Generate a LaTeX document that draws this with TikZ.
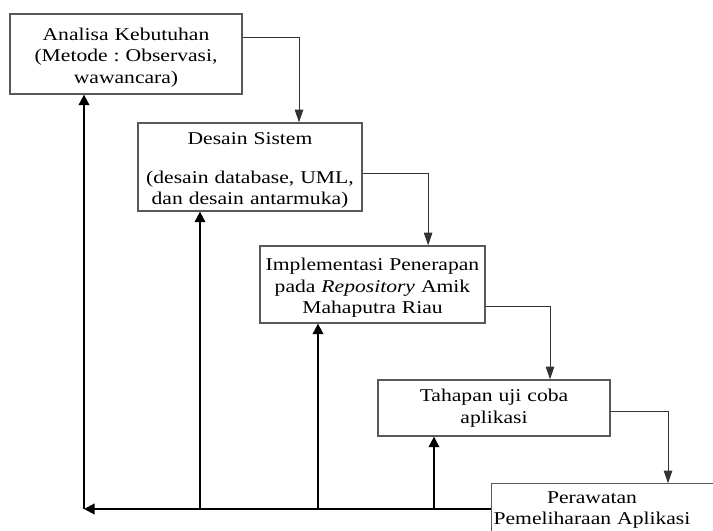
\documentclass[tikz,border=0pt]{standalone}
\usepackage{fontspec}
\setmainfont[FakeStretch=1.2]{Liberation Serif}
\usetikzlibrary{arrows.meta}
\frenchspacing

\begin{document}
\begin{tikzpicture}[x=0.025cm, y=-0.025cm,
    box/.style={draw=black!65, line width=0.9pt, inner sep=0pt, align=center,
      font=\fontsize{12.8}{15.2}\selectfont},
    flow/.style={draw=black!80, line width=0.7pt, -{Triangle[length=9pt,width=6pt]}},
    back/.style={draw=black, line width=1.4pt, -{Triangle[length=7.5pt,width=7.5pt]}}]
  \useasboundingbox (0,0) rectangle (713,531);
  \node[box, minimum width=5.8cm, minimum height=2cm, text width=5.6cm] (analisa) at (126,54)
    {\rule{0pt}{13.7pt}Analisa Kebutuhan\\(Metode : Observasi,\\wawancara)};
  \node[box, minimum width=5.6cm, minimum height=2.2cm, text width=5.4cm] (desain) at (250,167)
    {\rule{0pt}{13.7pt}Desain Sistem\\[12.4pt](desain database, UML,\\dan desain antarmuka)};
  \node[box, minimum width=5.625cm, minimum height=1.925cm, text width=5.4cm] (implementasi) at (372.5,284.5)
    {\rule{0pt}{13.7pt}Implementasi Penerapan\\pada \textit{Repository} Amik\\Mahaputra Riau};
  \node[box, minimum width=5.8cm, minimum height=1.4cm, text width=5.6cm] (tahapan) at (494,408)
    {Tahapan uji coba\\aplikasi};
  \node[box, draw=none, minimum height=1.3cm, text width=5cm] (perawatan) at (592,510)
    {Perawatan\\Pemeliharaan Aplikasi};
  % kotak terakhir terpotong di tepi kanan
  \draw[black!65, line width=0.9pt] (perawatan.south west) -- (perawatan.north west) -- ++(260,0);
  \coordinate (balik) at (84,509);

  % alur maju
  \draw[flow] ([yshift=0.425cm]analisa.east) -| ([xshift=1.225cm]desain.north);
  \draw[flow] ([yshift=-0.15cm]desain.east) -| ([xshift=1.39cm]implementasi.north);
  \draw[flow] ([yshift=-0.54cm]implementasi.east) -| ([xshift=1.4cm]tahapan.north);
  \draw[flow] ([yshift=-0.075cm]tahapan.east) -| ([xshift=1.9cm]perawatan.north);

  % alur balik
  \draw[back] (perawatan.west |- balik) -- (balik);
  \draw[back] (balik) -- (balik |- analisa.south);
  \draw[back] ([xshift=-1.25cm]desain.south |- balik) -- ([xshift=-1.25cm]desain.south);
  \draw[back] ([xshift=-1.3625cm]implementasi.south |- balik) -- ([xshift=-1.3625cm]implementasi.south);
  \draw[back] ([xshift=-1.5cm]tahapan.south |- balik) -- ([xshift=-1.5cm]tahapan.south);
\end{tikzpicture}
\end{document}
